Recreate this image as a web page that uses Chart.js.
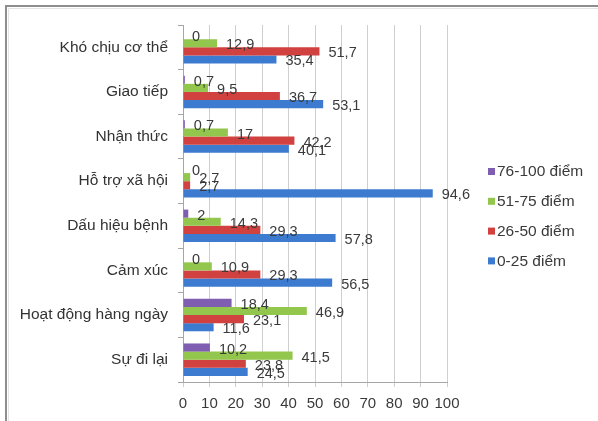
<!DOCTYPE html>
<html>
<head>
<meta charset="utf-8">
<script src="https://cdn.jsdelivr.net/npm/chart.js@4/dist/chart.umd.min.js"></script>
<style>
  html, body { margin: 0; padding: 0; background: #ffffff; }
  #wrap { width: 598px; height: 421px; }
</style>
</head>
<body>
<div id="wrap"><canvas id="c" width="598" height="421"></canvas></div>
<script>
// Quality-of-life domains, top to bottom
const categories = [
  'Khó chịu cơ thể', 'Giao tiếp', 'Nhận thức', 'Hỗ trợ xã hội',
  'Dấu hiệu bệnh', 'Cảm xúc', 'Hoạt động hàng ngày', 'Sự đi lại'
];

// Percentages per score band
const band76to100 = [0, 0.7, 0.7, 0, 2, 0, 18.4, 10.2];
const band51to75  = [12.9, 9.5, 17, 2.7, 14.3, 10.9, 46.9, 41.5];
const band26to50  = [51.7, 36.7, 42.2, 2.7, 29.3, 29.3, 23.1, 23.8];
const band0to25   = [35.4, 53.1, 40.1, 94.6, 57.8, 56.5, 11.6, 24.5];

const seriesNames = ['76-100 điểm', '51-75 điểm', '26-50 điểm', '0-25 điểm'];
const seriesColors = ['#7f5db0', '#93c64c', '#d1413f', '#3d7bd0'];

const xTicks = [0, 10, 20, 30, 40, 50, 60, 70, 80, 90, 100];

const FONT = '"Liberation Sans", Arial, sans-serif';

// Partial frame around the chart (top and left edges)
const framePlugin = {
  id: 'frame',
  beforeDraw(chart) {
    const ctx = chart.ctx;
    ctx.save();
    ctx.fillStyle = '#ffffff';
    ctx.fillRect(0, 0, chart.width, chart.height);
    ctx.strokeStyle = '#8e8e8e';
    ctx.lineWidth = 2;
    ctx.beginPath();
    ctx.moveTo(6, chart.height);
    ctx.lineTo(6, 6);
    ctx.lineTo(chart.width, 6);
    ctx.stroke();
    ctx.strokeStyle = '#e4e4e4';
    ctx.lineWidth = 1;
    ctx.beginPath();
    ctx.moveTo(8.5, chart.height);
    ctx.lineTo(8.5, 8.5);
    ctx.lineTo(chart.width, 8.5);
    ctx.stroke();
    ctx.restore();
  }
};

// Value labels at the end of each bar, decimal comma
const valueLabels = {
  id: 'valueLabels',
  afterDatasetsDraw(chart) {
    const ctx = chart.ctx;
    ctx.save();
    ctx.font = '14.5px ' + FONT;
    ctx.fillStyle = '#3a3a3a';
    ctx.textAlign = 'left';
    ctx.textBaseline = 'middle';
    chart.data.datasets.forEach((ds, i) => {
      const meta = chart.getDatasetMeta(i);
      meta.data.forEach((bar, j) => {
        const v = ds.data[j];
        ctx.fillText(String(v).replace('.', ','), bar.x + 9, bar.y + 2);
      });
    });
    ctx.restore();
  }
};

// Vertical legend on the right
const sideLegend = {
  id: 'sideLegend',
  afterDraw(chart) {
    const ctx = chart.ctx;
    ctx.save();
    ctx.font = '15.5px ' + FONT;
    ctx.textAlign = 'left';
    ctx.textBaseline = 'middle';
    const x0 = 488, y0 = 171.5, step = 29.8;
    chart.data.datasets.forEach((ds, i) => {
      const y = y0 + i * step;
      ctx.fillStyle = ds.backgroundColor;
      ctx.fillRect(x0, y - 3.5, 7, 7);
      ctx.fillStyle = '#3a3a3a';
      ctx.fillText(ds.label, x0 + 9, y + 0.5);
    });
    ctx.restore();
  }
};

const bandValues = [band76to100, band51to75, band26to50, band0to25];

new Chart(document.getElementById('c'), {
  type: 'bar',
  data: {
    labels: categories,
    datasets: bandValues.map((vals, i) => ({
      label: seriesNames[i],
      data: vals,
      backgroundColor: seriesColors[i],
      borderWidth: 0,
      barPercentage: 1,
      categoryPercentage: 0.727
    }))
  },
  options: {
    indexAxis: 'y',
    responsive: false,
    animation: false,
    devicePixelRatio: 1,
    layout: { padding: { left: 0, right: 151, top: 25, bottom: 0 } },
    plugins: {
      legend: { display: false },
      tooltip: { enabled: false }
    },
    scales: {
      x: {
        min: 0,
        max: 100,
        afterBuildTicks(scale) { scale.ticks = xTicks.map(v => ({ value: v })); },
        afterFit(scale) { scale.height = 39; },
        grid: {
          color: '#cfcfcf',
          lineWidth: 1,
          tickLength: 5,
          drawTicks: true
        },
        border: { display: true, color: '#a6a6a6' },
        ticks: {
          color: '#3a3a3a',
          font: { family: FONT, size: 15 },
          padding: 8,
          maxRotation: 0,
          autoSkip: false
        }
      },
      y: {
        afterFit(scale) { scale.width = 183; },
        grid: {
          offset: true,
          drawOnChartArea: false,
          drawTicks: true,
          tickLength: 5,
          color: '#a6a6a6'
        },
        border: { display: true, color: '#a6a6a6' },
        ticks: {
          color: '#333333',
          font: { family: FONT, size: 15.5 },
          padding: 10
        }
      }
    }
  },
  plugins: [framePlugin, valueLabels, sideLegend]
});
</script>
</body>
</html>
